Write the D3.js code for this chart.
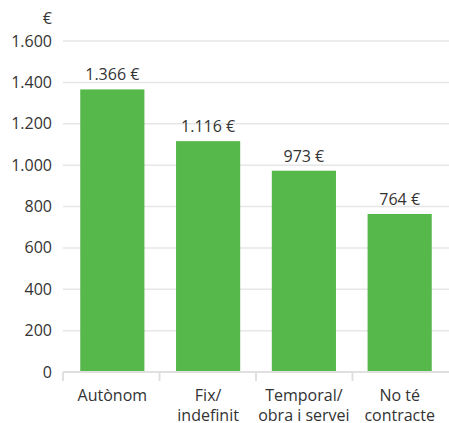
<!DOCTYPE html>
<html>
<head>
<meta charset="utf-8">
<script src="https://cdn.jsdelivr.net/npm/d3@7"></script>
<style>
  body { margin:0; background:#fff; }
  text { font-family:"Open Sans", sans-serif; fill:#333; }
</style>
</head>
<body>
<div id="chart"></div>
<script>
const categories = [["Autònom"], ["Fix/", "indefinit"], ["Temporal/", "obra i servei"], ["No té", "contracte"]];
const values = [1366, 1116, 973, 764];
const yTicks = [0, 200, 400, 600, 800, 1000, 1200, 1400, 1600];

const W = 449, H = 423;
const margin = {top:41, right:0, bottom:51, left:63},
      width = W - margin.left - margin.right,
      height = H - margin.top - margin.bottom;

const loc = d3.formatLocale({decimal:",", thousands:".", grouping:[3], currency:[""," €"]});
const fmt = loc.format(",d");

const svg = d3.select("#chart").append("svg")
  .attr("width", W).attr("height", H)
  .append("g").attr("transform", `translate(${margin.left},${margin.top})`);

const x = d3.scaleBand().domain(d3.range(values.length)).range([0, width]).paddingInner(0.33).paddingOuter(0.18);
const y = d3.scaleLinear().domain([0, 1600]).range([height, 0]);

// gridlines
svg.append("g").selectAll("line").data(yTicks.filter(d => d > 0)).join("line")
  .attr("x1", 0).attr("x2", width).attr("y1", d => y(d)).attr("y2", d => y(d))
  .attr("stroke", "#e6e6e6").attr("stroke-width", 1.5);

// y labels
svg.append("g").selectAll("text").data(yTicks).join("text")
  .attr("x", -11).attr("y", d => y(d)).attr("dy", "0.35em")
  .attr("text-anchor", "end").style("font-size", "16px").text(d => fmt(d));
svg.append("text").attr("x", -11).attr("y", -17).attr("text-anchor", "end")
  .style("font-size", "16px").text("€");

// bars
svg.selectAll("rect").data(values).join("rect")
  .attr("x", (d, i) => x(i)).attr("y", d => y(d))
  .attr("width", x.bandwidth()).attr("height", d => height - y(d))
  .attr("fill", "#56b84b");

// value labels
svg.append("g").selectAll("text").data(values).join("text")
  .attr("x", (d, i) => x(i) + x.bandwidth() / 2).attr("y", d => y(d) - 9)
  .attr("text-anchor", "middle").style("font-size", "16px").text(d => fmt(d) + " €");

// x axis baseline and separators
const band = width / values.length;
const ax = svg.append("g").attr("transform", `translate(0,${height})`);
ax.append("line").attr("x1", 0).attr("x2", width).attr("stroke", "#e0e0e0").attr("stroke-width", 2);
ax.selectAll("line.sep").data(d3.range(values.length)).join("line").attr("class", "sep")
  .attr("x1", i => i * band).attr("x2", i => i * band).attr("y1", 0).attr("y2", 9)
  .attr("stroke", "#e0e0e0").attr("stroke-width", 2);

ax.selectAll("text.cat").data(categories).join("text").attr("class", "cat")
  .attr("text-anchor", "middle")
  .attr("x", (d, i) => x(i) + x.bandwidth() / 2)
  .attr("y", 29)
  .style("font-size", "16px")
  .each(function(lines) {
    d3.select(this).selectAll("tspan").data(lines).join("tspan")
      .attr("x", d3.select(this).attr("x")).attr("dy", (l, j) => j ? 20 : 0).text(l => l);
  });
</script>
</body>
</html>
